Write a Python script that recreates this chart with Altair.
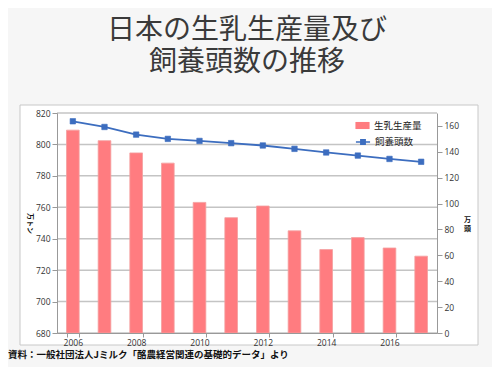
import altair as alt
import pandas as pd

years = ["2006", "2007", "2008", "2009", "2010", "2011", "2012", "2013", "2014", "2015", "2016", "2017"]
milk = [809.1, 802.4, 794.6, 788.1, 763.1, 753.4, 760.8, 745.0, 733.1, 740.7, 734.1, 728.9]
cows = [163.6, 159.2, 153.3, 150.0, 148.4, 146.7, 144.9, 142.3, 139.5, 137.1, 134.5, 132.3]
year_ticks = ["2006", "2008", "2010", "2012", "2014", "2016"]
milk_ticks = [680, 700, 720, 740, 760, 780, 800, 820]
cow_ticks = [0, 20, 40, 60, 80, 100, 120, 140, 160]
title_line1 = "日本の生乳生産量及び"
title_line2 = "飼養頭数の推移"
footer = "資料：一般社団法人Jミルク「酪農経営関連の基礎的データ」より"

df = pd.DataFrame({"year": years, "milk": milk, "cows": cows,
                   "s1": "生乳生産量", "s2": "飼養頭数"})
grid_df = pd.DataFrame({"t": milk_ticks})
one = pd.DataFrame({"a": [0]})

JP = "Noto Sans CJK JP"
NUM = "Open Sans"
milk_scale = alt.Scale(domain=[680, 820], zero=False, nice=False)
cow_scale = alt.Scale(domain=[0, 170], nice=False)

left_axis = alt.Axis(values=milk_ticks, labelFont=NUM, labelFontSize=8.5, labelColor="#333",
                     grid=False, zindex=1, labelOverlap=False,
                     domainColor="#999", tickColor="#999", tickSize=5,
                     titleFont=JP, titleFontSize=7, titleFontWeight="bold", titleColor="#111",
                     titleAngle=90, titleX=-28, titleY=110, titleAlign="center",
                     titleBaseline="middle")

frame = alt.Chart(one).mark_rect(fill="white", stroke="#c8c8c8", strokeWidth=1).encode(
    x=alt.value(-37), x2=alt.value(421), y=alt.value(-8), y2=alt.value(232)
)

footer_text = alt.Chart(one).mark_text(
    text=footer, font=JP, fontSize=9.5, fontWeight="bold", color="#111", align="left", baseline="middle"
).encode(x=alt.value(-49), y=alt.value(242))

xenc = alt.X("year:N", sort=years, title=None,
             scale=alt.Scale(paddingInner=0.6, paddingOuter=0.3),
             axis=alt.Axis(values=year_ticks, labelAngle=0, labelFont=NUM, labelFontSize=8.5,
                           labelColor="#333", domainColor="#999", tickColor="#999",
                           tickSize=4, tickBand="extent", labelPadding=1, grid=False, zindex=1))

gridlines = alt.Chart(grid_df).mark_rule(color="#c4c4c4", strokeWidth=1.5).encode(
    y=alt.Y("t:Q", title="万トン", scale=milk_scale, axis=left_axis)
)

bars = alt.Chart(df).mark_bar(color="#FF7C80", stroke="#f4a0a0", strokeWidth=0.8).encode(
    x=xenc,
    y=alt.Y("milk:Q", title="万トン", scale=milk_scale, axis=left_axis),
    y2=alt.datum(680),
    fill=alt.Fill("s1:N", title=None,
                  scale=alt.Scale(domain=["生乳生産量"], range=["#FF7C80"]),
                  legend=alt.Legend(orient="none", legendX=298, legendY=5,
                                    symbolType="M-1,-0.5H1V0.5H-1Z", symbolSize=200,
                                    symbolStrokeWidth=0, labelFont=JP, labelFontSize=9.5,
                                    labelColor="#222", padding=0)),
)

left = alt.layer(gridlines, bars)

line = alt.Chart(df).mark_line(
    color="#3C6DBF", strokeWidth=1.8,
    point=alt.OverlayMarkDef(shape="square", filled=True, size=30, color="#3C6DBF",
                             stroke="#c07080", strokeWidth=0.6, opacity=1),
).encode(
    x=alt.X("year:N", sort=years),
    y=alt.Y("cows:Q", title=["万", "頭"], scale=cow_scale,
            axis=alt.Axis(orient="right", values=cow_ticks, labelFont=NUM, labelFontSize=8.5,
                          labelColor="#333", grid=False, domainColor="#999", tickColor="#999",
                          tickSize=5, zindex=1, labelOverlap=False,
                          titleFont=JP, titleFontSize=7, titleFontWeight="bold", titleColor="#111",
                          titleAngle=0, titleX=30, titleY=106, titleAlign="center",
                          titleBaseline="middle", titleLineHeight=9)),
    stroke=alt.Stroke("s2:N", title=None,
                      scale=alt.Scale(domain=["飼養頭数"], range=["#3C6DBF"]),
                      legend=alt.Legend(orient="none", legendX=298, legendY=21,
                                        symbolType="M-1,0H1M-0.3,-0.3H0.3V0.3H-0.3Z",
                                        symbolSize=200, symbolStrokeWidth=1.6,
                                        symbolFillColor="#3C6DBF",
                                        labelFont=JP, labelFontSize=9.5, labelColor="#222",
                                        padding=0)),
)

chart = alt.layer(frame, footer_text, left, line).resolve_scale(
    y="independent", fill="independent", stroke="independent"
).properties(
    width=380, height=220,
    padding={"left": 49, "top": 105, "right": 55, "bottom": 34},
    autosize=alt.AutoSizeParams(type="none"),
    title=alt.Title(title_line1, subtitle=title_line2,
                    fontSize=28, font=JP, fontWeight="normal", color="#3a3a3a",
                    subtitleFontSize=28, subtitleFont=JP, subtitleColor="#3a3a3a",
                    subtitlePadding=4, subtitleLineHeight=31,
                    anchor="middle", offset=28),
    background="#f6f6f6",
).configure_view(stroke=None)

chart.save("out.html", embed_options={"renderer": "svg", "actions": False})
